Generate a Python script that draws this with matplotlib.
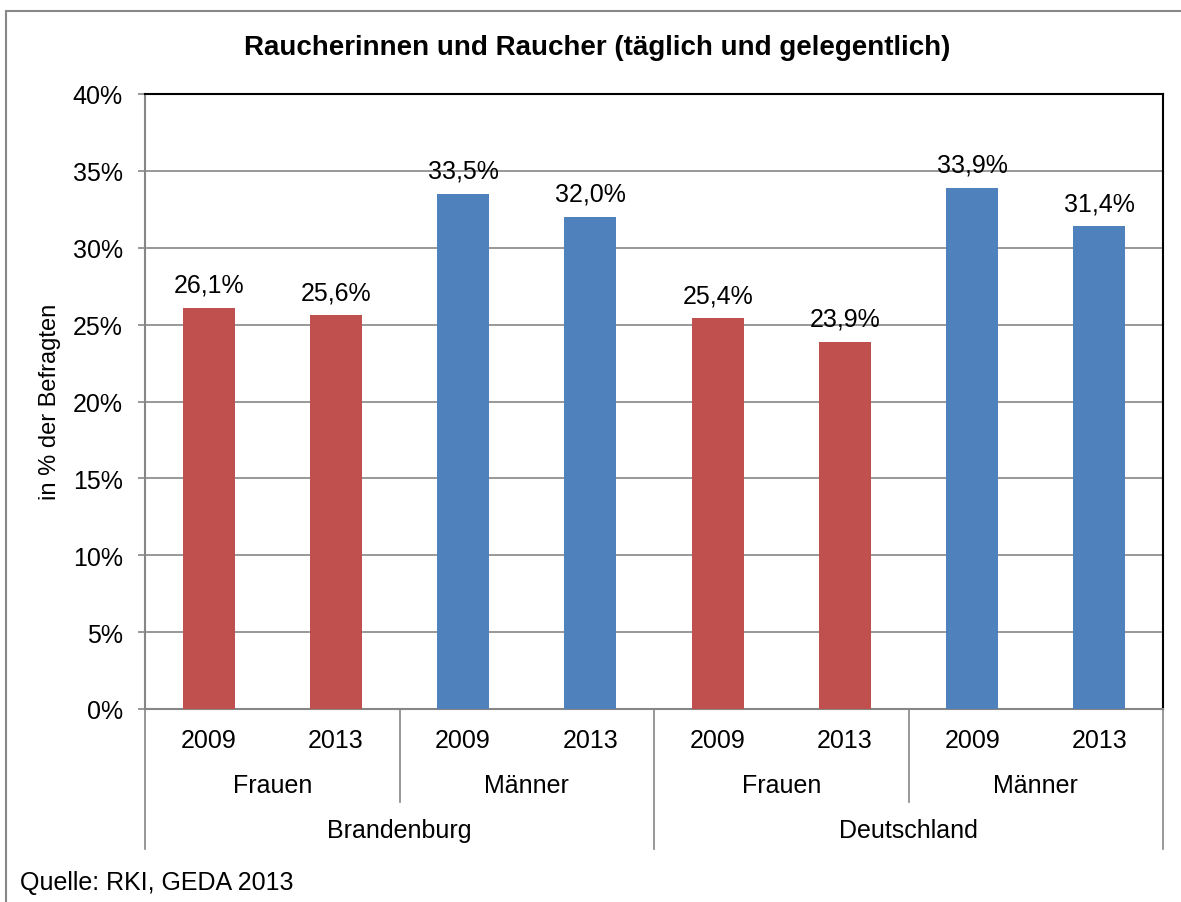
import matplotlib.pyplot as plt
from matplotlib.patches import Rectangle
from matplotlib.ticker import FuncFormatter

plt.rcParams['font.family'] = ['Liberation Sans', 'DejaVu Sans']

years = ["2009", "2013", "2009", "2013", "2009", "2013", "2009", "2013"]
sexes = ["Frauen", "Männer", "Frauen", "Männer"]
regions = ["Brandenburg", "Deutschland"]
values = [26.1, 25.6, 33.5, 32.0, 25.4, 23.9, 33.9, 31.4]
labels = ["26,1%", "25,6%", "33,5%", "32,0%", "25,4%", "23,9%", "33,9%", "31,4%"]
red = "#C0504D"
blue = "#4F81BD"
colors = [red, red, blue, blue, red, red, blue, blue]

fig = plt.figure(figsize=(11.81, 9.03), dpi=100)
ax = fig.add_axes([145 / 1181, 1 - 710 / 903, 1018 / 1181, 615 / 903])

x = list(range(len(values)))
bars = ax.bar(x, values, width=0.41, color=colors, zorder=3)
for b, lab in zip(bars, labels):
    ax.annotate(lab, (b.get_x() + b.get_width() / 2, b.get_height()),
                xytext=(0, 8), textcoords="offset points",
                ha="center", va="bottom", fontsize=18)

ax.set_xlim(-0.5, 7.5)
ax.set_ylim(0, 40)
ax.set_yticks(range(0, 41, 5))
ax.yaxis.set_major_formatter(FuncFormatter(lambda v, p: f"{v:.0f}%"))
ax.yaxis.grid(True, color="#868686", linewidth=1.2, zorder=0)
ax.tick_params(axis="y", labelsize=18, length=5, width=1.2, color="#868686", pad=11)
ax.set_xticks([])

for s in ["top", "right"]:
    ax.spines[s].set_color("black")
    ax.spines[s].set_linewidth(1.5)
for s in ["left", "bottom"]:
    ax.spines[s].set_color("#868686")
    ax.spines[s].set_linewidth(1.5)

tr = ax.get_xaxis_transform()
# level 1 separators
for xs in [1.5, 5.5]:
    ax.plot([xs, xs], [0, -0.151], transform=tr, color="#868686", lw=1.2, clip_on=False)
# level 2 separators
for xs in [-0.5, 3.5, 7.5]:
    ax.plot([xs, xs], [0, -0.228], transform=tr, color="#868686", lw=1.2, clip_on=False)

for xi, y in zip(x, years):
    ax.text(xi, -0.05, y, transform=tr, ha="center", va="center", fontsize=18)
for i, s in enumerate(sexes):
    ax.text(2 * i + 0.5, -0.124, s, transform=tr, ha="center", va="center", fontsize=18)
for i, r in enumerate(regions):
    ax.text(4 * i + 1.5, -0.197, r, transform=tr, ha="center", va="center", fontsize=18)

fig.text(597 / 1181, 1 - 48 / 903, "Raucherinnen und Raucher (täglich und gelegentlich)",
         ha="center", va="center", fontsize=20, fontweight="bold")
fig.text(50 / 1181, 1 - 402 / 903, "in % der Befragten", rotation=90,
         ha="center", va="center", fontsize=17)
fig.text(20 / 1181, 1 - 883 / 903, "Quelle: RKI, GEDA 2013",
         ha="left", va="center", fontsize=18)

fig.patches.append(Rectangle((6 / 1181, -0.1), 1.2, 1 - 12 / 903 + 0.1,
                             transform=fig.transFigure, fill=False,
                             edgecolor="#888888", linewidth=1.5))

fig.savefig("out.png", dpi=100)
